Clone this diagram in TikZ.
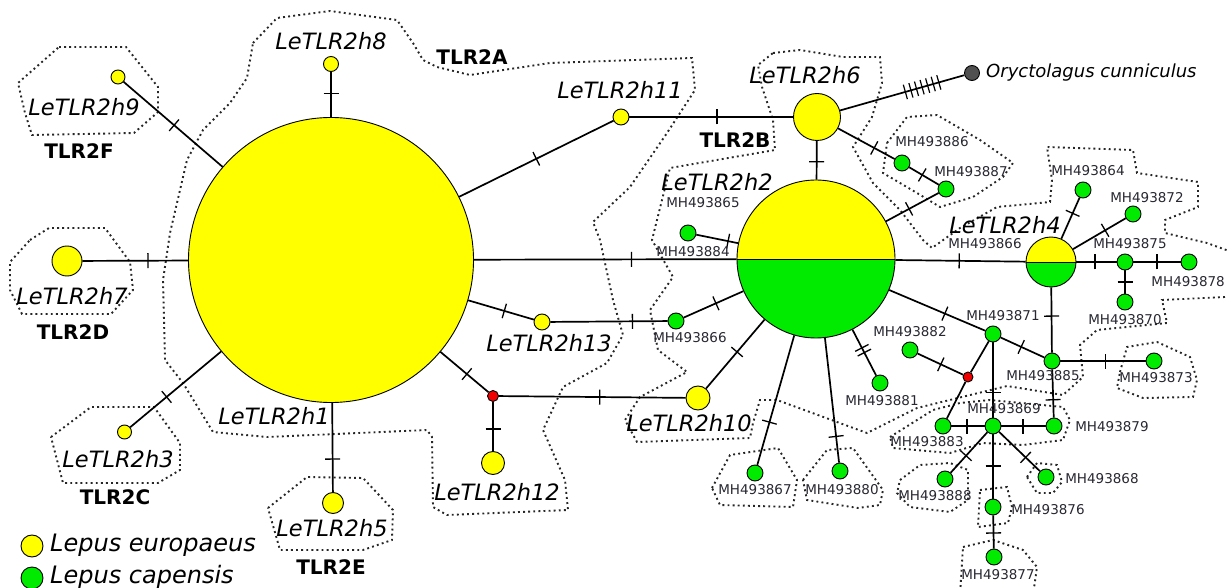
\documentclass[tikz,border=0pt]{standalone}
\usepackage{fontspec}
\setmainfont{DejaVu Sans}
\definecolor{hapy}{RGB}{255,255,0}
\definecolor{hapg}{RGB}{0,235,0}
\definecolor{hapr}{RGB}{240,0,0}
\definecolor{outg}{RGB}{80,80,80}
\definecolor{mhtext}{RGB}{40,40,50}
\newcommand\tkone{\rule{1.3pt}{15pt}}
\newcommand\tktwo{\rule{1.3pt}{15pt}\hspace{4pt}\rule{1.3pt}{15pt}}
\newcommand\tkseven{\rule{1.2pt}{15pt}\hspace{4.6pt}\rule{1.2pt}{15pt}\hspace{4.6pt}\rule{1.2pt}{15pt}\hspace{4.6pt}\rule{1.2pt}{15pt}\hspace{4.6pt}\rule{1.2pt}{15pt}\hspace{4.6pt}\rule{1.2pt}{15pt}\hspace{4.6pt}\rule{1.2pt}{15pt}}
\newcommand\lnk[4]{\draw[edge] (#1) -- node[tk=#3]{#4} (#2);}
\newcommand\lnkplain[2]{\draw[edge] (#1) -- (#2);}
\begin{document}
\begin{tikzpicture}[x=1pt,y=-1pt,
  hap/.style={circle,draw=black,line width=0.9pt,inner sep=0pt,minimum size=#1},
  yel/.style={hap=#1,fill=hapy},
  grn/.style={hap=#1,fill=hapg},
  red/.style={hap=#1,fill=hapr},
  half/.style={hap=#1,path picture={
    \fill[hapy] (path picture bounding box.north west) rectangle (path picture bounding box.east);
    \fill[hapg] (path picture bounding box.west) rectangle (path picture bounding box.south east);
    \draw[line width=0.9pt] (path picture bounding box.west) -- (path picture bounding box.east);}},
  edge/.style={line width=1.7pt,black},
  tk/.style={pos=#1,sloped,inner sep=0pt,outer sep=0pt},
  hull/.style={line width=1.9pt,dash pattern=on 1.9pt off 3.2pt,black!85},
  itl/.style={font=\fontsize{22.5}{24}\selectfont\itshape,inner sep=0pt},
  mh/.style={font=\fontsize{13.5}{15}\selectfont,text=mhtext,inner sep=0pt},
  grp/.style={font=\fontsize{20}{22}\selectfont\bfseries,inner sep=0pt},
  leg/.style={font=\fontsize{24}{26}\selectfont\itshape,inner sep=0pt,anchor=west}]
\useasboundingbox (0,0) rectangle (1227,588);

% ---- group outlines ----
\draw[hull] (253,43) -- (277,18) -- (330,11) -- (397,20) -- (413,43) -- (423,60) -- (437,67) -- (470,75)
  -- (550,63) -- (692,58) -- (695,90) -- (667,133) -- (630,187) -- (593,222) -- (600,240) -- (613,300)
  -- (623,335) -- (607,363) -- (563,387) -- (543,430) -- (565,480) -- (568,510) -- (447,515) -- (433,507)
  -- (432,437) -- (427,430) -- (267,437) -- (213,432) -- (183,383) -- (165,360) -- (163,280) -- (170,233)
  -- (187,160) -- (203,130) -- (230,103) -- (247,78) -- cycle;
\draw[hull] (773,53) -- (800,50) -- (843,57) -- (880,57) -- (882,83) -- (872,117) -- (853,147) -- (873,183)
  -- (900,210) -- (923,240) -- (932,248) -- (960,228) -- (997,207) -- (1050,202) -- (1052,180) -- (1047,147)
  -- (1133,150) -- (1137,173) -- (1198,182) -- (1198,207) -- (1165,220) -- (1165,233) -- (1207,243)
  -- (1240,255) -- (1240,295) -- (1225,297) -- (1162,300) -- (1167,323) -- (1097,330) -- (1080,345)
  -- (1083,377) -- (1063,395) -- (1007,386) -- (917,408) -- (867,433) -- (777,400) -- (760,400)
  -- (753,423) -- (750,438) -- (637,442) -- (625,420) -- (640,397) -- (687,372) -- (658,350) -- (650,310)
  -- (673,277) -- (652,240) -- (670,168) -- (775,150) -- (773,120) -- (762,87) -- (758,65) -- cycle;
\draw[hull] (887,143) -- (907,117) -- (937,115) -- (980,140) -- (1013,163) -- (1003,177) -- (973,197)
  -- (940,207) -- (917,193) -- (883,173) -- cycle;
\draw[hull] (1120,372) -- (1127,347) -- (1157,342) -- (1190,357) -- (1197,380) -- (1193,397) -- (1143,398) -- (1117,388) -- cycle;
\draw[hull] (890,437) -- (933,410) -- (960,403) -- (990,400) -- (1063,407) -- (1070,420) -- (1063,440) -- (1023,445)
  -- (983,443) -- (950,453) -- (893,448) -- cycle;
\draw[hull] (900,480) -- (920,465) -- (950,463) -- (968,470) -- (968,500) -- (950,512) -- (910,507) -- (897,493) -- cycle;
\draw[hull] (1027,477) -- (1037,463) -- (1057,465) -- (1062,482) -- (1053,493) -- (1037,493) -- cycle;
\draw[hull] (980,490) -- (1007,487) -- (1012,507) -- (1008,523) -- (978,527) -- cycle;
\draw[hull] (963,547) -- (993,540) -- (1023,550) -- (1037,567) -- (1033,595) -- (960,595) -- cycle;
\draw[hull] (803,480) -- (827,450) -- (853,448) -- (883,490) -- (880,505) -- (858,508) -- (807,500) -- cycle;
\draw[hull] (712,488) -- (730,455) -- (778,448) -- (797,480) -- (793,507) -- (720,505) -- cycle;
\draw[hull] (30,240) -- (49,228) -- (105,228) -- (130,262) -- (133,290) -- (111,314) -- (22,314) -- (10,290) -- (10,262) -- cycle;
\draw[hull] (59,47) -- (126,47) -- (158,87) -- (158,112) -- (134,133) -- (32,135) -- (25,113) -- (18,83) -- cycle;
\draw[hull] (51,437) -- (91,407) -- (154,407) -- (180,443) -- (180,470) -- (158,483) -- (63,483) -- cycle;
\draw[hull] (268,508) -- (307,477) -- (363,478) -- (393,510) -- (392,540) -- (363,550) -- (280,550) -- cycle;

% ---- haplotypes ----
\node[yel=285pt] (h1) at (331,260) {};
\node[yel=15pt] (h8) at (331,64) {};
\node[yel=14pt] (h9) at (118,77) {};
\node[yel=30pt] (h7) at (67,261) {};
\node[yel=14pt] (h3) at (124.5,432) {};
\node[yel=21pt] (h5) at (333,503) {};
\node[yel=16pt] (h11) at (621,117) {};
\node[yel=16pt] (h13) at (542,322) {};
\node[red=11pt] (r1) at (493,396) {};
\node[yel=23pt] (h12) at (493,463) {};
\node[yel=24pt] (h10) at (698,398) {};
\node[yel=47pt] (h6) at (817,117) {};
\node[half=158pt] (h2) at (816,259) {};
\node[half=50pt] (h4) at (1051,262) {};
\node[hap=15pt,fill=outg] (oc) at (972,73) {};
\node[grn=16pt] (g884) at (688,233) {};
\node[grn=16pt] (g866a) at (676,321) {};
\node[grn=16pt] (g867) at (755,473) {};
\node[grn=16pt] (g880) at (840,471) {};
\node[grn=16pt] (g881) at (880,383) {};
\node[grn=16pt] (g871) at (993,334) {};
\node[grn=16pt] (g886) at (902,163) {};
\node[grn=16pt] (g887) at (946,189) {};
\node[grn=16pt] (g864) at (1083,190) {};
\node[grn=16pt] (g872) at (1133,214) {};
\node[grn=16pt] (g875) at (1125,262) {};
\node[grn=16pt] (g878) at (1189,262) {};
\node[grn=16pt] (g870) at (1125,302) {};
\node[grn=16pt] (g885) at (1052,361) {};
\node[grn=16pt] (g873) at (1154,361) {};
\node[grn=16pt] (g879) at (1054,426) {};
\node[grn=16pt] (g869) at (993,426) {};
\node[grn=16pt] (g883) at (943,426) {};
\node[red=10pt] (r2) at (968,377) {};
\node[grn=16pt] (g882) at (910,350) {};
\node[grn=16pt] (g888) at (945,479) {};
\node[grn=16pt] (g868) at (1046,477) {};
\node[grn=16pt] (g876) at (993,507) {};
\node[grn=16pt] (g877) at (994,557) {};

% ---- mutational links ----
\lnk{h8}{h1}{0.48}{\tkone}
\lnk{h9}{h1}{0.51}{\tkone}
\lnk{h7}{h1}{0.62}{\tkone}
\lnk{h3}{h1}{0.40}{\tkone}
\lnk{h5}{h1}{0.37}{\tkone}
\lnk{h11}{h1}{0.50}{\tkone}
\lnk{h13}{h1}{0.45}{\tkone}
\lnk{r1}{h1}{0.45}{\tkone}
\lnk{r1}{h12}{0.55}{\tkone}
\lnk{r1}{h10}{0.54}{\tkone}
\lnk{h1}{h2}{0.60}{\tkone}
\lnk{h11}{h6}{0.535}{\tkone}
\lnk{h6}{h2}{0.54}{\tkone}
\lnk{h13}{g866a}{0.70}{\tkone}
\lnk{g866a}{h2}{0.54}{\tkone}
\lnk{g884}{h2}{0.76}{\tkone}
\lnk{h10}{h2}{0.53}{\tkone}
\lnk{g867}{h2}{0.33}{\tkone}
\lnk{g880}{h2}{0.21}{\tkone}
\lnk{g881}{h2}{0.55}{\tktwo}
\lnk{g871}{h2}{0.42}{\tkone}
\lnk{g887}{h2}{0.56}{\tkone}
\lnk{h6}{g886}{0.64}{\tkone}
\lnk{g886}{g887}{0.44}{\tkone}
\lnk{h6}{oc}{0.66}{\tkseven}
\lnk{h2}{h4}{0.49}{\tkone}
\lnk{g864}{h4}{0.38}{\tkone}
\lnk{g872}{h4}{0.39}{\tkone}
\lnk{h4}{g875}{0.46}{\tkone}
\lnk{g875}{g878}{0.50}{\tkone}
\lnk{g875}{g870}{0.50}{\tkone}
\lnk{h4}{g885}{0.44}{\tkone}
\lnk{g871}{g885}{0.47}{\tkone}
\lnk{g885}{g873}{0.53}{\tkone}
\lnk{g885}{g879}{0.63}{\tkone}
\lnk{g871}{g869}{0.67}{\tkone}
\lnk{g869}{g879}{0.49}{\tkone}
\lnk{g869}{g883}{0.53}{\tkone}
\lnkplain{g871}{r2}
\lnkplain{r2}{g883}
\lnk{g882}{r2}{0.51}{\tkone}
\lnk{g869}{g888}{0.58}{\tkone}
\lnk{g869}{g868}{0.65}{\tkone}
\lnk{g869}{g876}{0.49}{\tkone}
\lnk{g876}{g877}{0.53}{\tkone}

% ---- haplotype names ----
\node[itl] (l-h8) at (331,41) {LeTLR2h8};
\node[itl] (l-h9) at (84,107) {LeTLR2h9};
\node[itl] (l-h7) at (72,296) {LeTLR2h7};
\node[itl] (l-h3) at (118,459) {LeTLR2h3};
\node[itl] (l-h5) at (332,528) {LeTLR2h5};
\node[itl] (l-h1) at (274,416) {LeTLR2h1};
\node[itl] (l-h11) at (620,90) {LeTLR2h11};
\node[itl] (l-h13) at (549,343) {LeTLR2h13};
\node[itl] (l-h12) at (497,492) {LeTLR2h12};
\node[itl] (l-h10) at (689,423) {LeTLR2h10};
\node[itl] (l-h6) at (805,75) {LeTLR2h6};
\node[itl] (l-h2) at (717,182) {LeTLR2h2};
\node[itl] (l-h4) at (1005,225) {LeTLR2h4};
\node[itl,font=\fontsize{18}{20}\selectfont\itshape,anchor=west] (l-oc) at (986,73) {Oryctolagus cunniculus};

% ---- group names ----
\node[grp] (gA) at (472,57) {TLR2A};
\node[grp] (gB) at (735,140) {TLR2B};
\node[grp] (gC) at (115,497) {TLR2C};
\node[grp] (gD) at (73,332) {TLR2D};
\node[grp] (gE) at (331,567) {TLR2E};
\node[grp] (gF) at (79,151) {TLR2F};

% ---- accession numbers ----
\node[mh] (m865) at (703,203) {MH493865};
\node[mh] (m884) at (693,252) {MH493884};
\node[mh] (m866a) at (690,338) {MH493866};
\node[mh] (m886) at (932,142) {MH493886};
\node[mh] (m887) at (971,172) {MH493887};
\node[mh] (m864) at (1088,171) {MH493864};
\node[mh] (m872) at (1147,198) {MH493872};
\node[mh] (m866b) at (985,244) {MH493866};
\node[mh] (m875) at (1130,244) {MH493875};
\node[mh,anchor=east] (m878) at (1225,282) {MH493878};
\node[mh] (m870) at (1125,320) {MH493870};
\node[mh] (m871) at (1003,316) {MH493871};
\node[mh] (m882) at (910,332) {MH493882};
\node[mh] (m885) at (1043,376) {MH493885};
\node[mh] (m873) at (1156,378) {MH493873};
\node[mh] (m881) at (882,401) {MH493881};
\node[mh] (m869) at (1004,409) {MH493869};
\node[mh] (m879) at (1112,427) {MH493879};
\node[mh] (m883) at (927,442) {MH493883};
\node[mh] (m888) at (935,496) {MH493888};
\node[mh] (m868) at (1102,479) {MH493868};
\node[mh] (m876) at (1048,510) {MH493876};
\node[mh] (m877) at (998,575) {MH493877};
\node[mh] (m867) at (755,490) {MH493867};
\node[mh] (m880) at (842,490) {MH493880};

% ---- legend ----
\node[yel=22pt] (ky) at (32,546) {};
\node[leg] (kyt) at (50,545) {Lepus europaeus};
\node[grn=22pt] (kg) at (32,578) {};
\node[leg] (kgt) at (50,577) {Lepus capensis};
\end{tikzpicture}
\end{document}
